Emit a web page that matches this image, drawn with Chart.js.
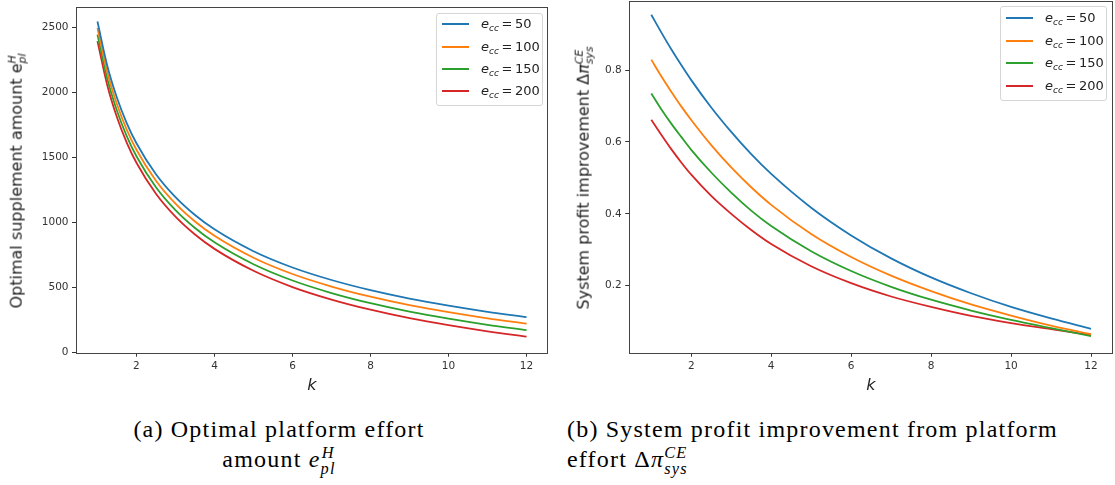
<!DOCTYPE html>
<html>
<head>
<meta charset="utf-8">
<script src="https://cdn.jsdelivr.net/npm/chart.js@4.4.0/dist/chart.umd.min.js"></script>
<style>
body { margin: 0; width: 1115px; height: 485px; background: #fff; position: relative; overflow: hidden; font-family: "DejaVu Sans", sans-serif; color: #000; }
canvas { position: absolute; top: 0; }
#leftChart { left: 0; }
#rightChart { left: 560px; }
.ytitle { position: absolute; transform: translate(-50%, -50%) rotate(-90deg); white-space: nowrap; font-size: 16px; line-height: 1; color: #222; }
.xtitle { position: absolute; transform: translate(-50%, -50%); font-style: italic; font-size: 16px; color: #222; }
.legend { position: absolute; background: rgba(255,255,255,0.8); border: 1px solid #d6d6d6; border-radius: 3px; box-sizing: border-box; }
.legend .row { position: absolute; left: 0; height: 20px; display: flex; align-items: center; white-space: nowrap; }
.legend .swatch { width: 27px; height: 0; border-top: 2px solid; margin-left: 5px; }
.legend .lbl { margin-left: 12px; font-size: 13px; color: #222; }
.legend sub { font-size: 9px; vertical-align: -3px; }
.ss { display: inline-flex; flex-direction: column; vertical-align: 0.55em; line-height: 0.95; font-size: 0.68em; font-style: italic; }
.caption { position: absolute; font-family: "Liberation Serif", serif; font-size: 24px; letter-spacing: 1.2px; line-height: 30px; white-space: nowrap; }
</style>
</head>
<body>
<canvas id="leftChart" width="560" height="400"></canvas>
<canvas id="rightChart" width="555" height="400"></canvas>

<div class="ytitle" style="left:18px; top:181px;">Optimal supplement amount e<span class="ss"><span>H</span><span>pl</span></span></div>
<div class="ytitle" style="left:585px; top:178px;">System profit improvement Δ<i>π</i><span class="ss"><span>CE</span><span>sys</span></span></div>
<div class="xtitle" style="left:312px; top:384px;">k</div>
<div class="xtitle" style="left:871px; top:384px;">k</div>

<div class="legend" id="legendLeft" style="left:436px; top:13px; width:107px; height:93px;"></div>
<div class="legend" id="legendRight" style="left:1000px; top:6px; width:107px; height:95px;"></div>

<div class="caption" style="left:79px; top:414px; width:400px; text-align:center;">(a) Optimal platform effort<br>amount <i>e</i><span class="ss"><span>H</span><span>pl</span></span></div>
<div class="caption" style="left:567px; top:414px; width:540px;">(b) System profit improvement from platform<br>effort Δ<i>π</i><span class="ss"><span>CE</span><span>sys</span></span></div>

<script>
// Значения параметра k (ось X)
const kValues = [1, 1.25, 1.5, 1.75, 2, 2.5, 3, 3.5, 4, 5, 6, 7, 8, 9, 10, 11, 12];
const eccLabels = ['50', '100', '150', '200'];
const seriesColors = ['#1f77b4', '#ff7f0e', '#2ca02c', '#d62728'];

const xTicks = [2, 4, 6, 8, 10, 12];
const effortTicks = [0, 500, 1000, 1500, 2000, 2500];
const profitTicks = [0.2, 0.4, 0.6, 0.8];

// (a) оптимальное усилие платформы
const effort50  = [2542, 2205, 1957, 1763, 1608, 1370, 1194, 1057, 947, 779, 654, 558, 480, 415, 361, 314, 273];
const effort100 = [2492, 2155, 1907, 1713, 1558, 1320, 1144, 1007, 897, 729, 604, 508, 430, 365, 311, 264, 223];
const effort150 = [2442, 2105, 1857, 1663, 1508, 1270, 1094, 957, 847, 679, 554, 458, 380, 315, 261, 214, 173];
const effort200 = [2392, 2055, 1807, 1613, 1458, 1220, 1044, 907, 797, 629, 504, 408, 330, 265, 211, 164, 123];

// (b) прирост прибыли системы
const profit50  = [0.954, 0.905, 0.858, 0.814, 0.772, 0.696, 0.628, 0.566, 0.511, 0.417, 0.340, 0.276, 0.223, 0.179, 0.141, 0.109, 0.080];
const profit100 = [0.829, 0.783, 0.740, 0.699, 0.661, 0.591, 0.529, 0.474, 0.425, 0.344, 0.280, 0.228, 0.185, 0.148, 0.117, 0.089, 0.065];
const profit150 = [0.735, 0.691, 0.651, 0.614, 0.578, 0.515, 0.459, 0.409, 0.366, 0.296, 0.241, 0.197, 0.161, 0.131, 0.105, 0.082, 0.060];
const profit200 = [0.662, 0.620, 0.580, 0.543, 0.509, 0.450, 0.400, 0.355, 0.316, 0.254, 0.207, 0.170, 0.141, 0.116, 0.096, 0.079, 0.063];

const tickFont = { family: 'DejaVu Sans', size: 10.5 };
const tickColor = '#333';

// рамка вокруг области графика, как у matplotlib
const framePlugin = {
    id: 'frame',
    afterDraw(chart) {
        const a = chart.chartArea;
        const ctx = chart.ctx;
        ctx.save();
        ctx.strokeStyle = '#444';
        ctx.lineWidth = 1;
        ctx.strokeRect(Math.round(a.left) + 0.5, Math.round(a.top) + 0.5,
            Math.round(a.right - a.left) - 1, Math.round(a.bottom - a.top));
        ctx.restore();
    }
};

function makeDatasets(seriesList) {
    return seriesList.map((values, i) => ({
        label: 'e_cc = ' + eccLabels[i],
        data: values.map((v, j) => ({ x: kValues[j], y: v })),
        borderColor: seriesColors[i],
        borderWidth: 1.8,
        pointRadius: 0,
        fill: false,
        cubicInterpolationMode: 'monotone'
    }));
}

// убираем запас под крайние подписи, чтобы область графика стояла точно
function noEdgePadding(s) {
    s.paddingTop = 0;
    s.paddingBottom = 0;
    s.paddingLeft = 0;
    s.paddingRight = 0;
}

function makeChart(canvasId, seriesList, yTicks, yMin, yMax, yWidth, padding) {
    return new Chart(document.getElementById(canvasId), {
        type: 'line',
        data: { datasets: makeDatasets(seriesList) },
        options: {
            responsive: false,
            animation: false,
            layout: { padding: padding },
            plugins: { legend: { display: false }, tooltip: { enabled: false } },
            scales: {
                x: {
                    type: 'linear',
                    min: 0.45,
                    max: 12.55,
                    afterBuildTicks: s => { s.ticks = xTicks.map(v => ({ value: v })); },
                    afterFit: s => { s.height = 47.3; noEdgePadding(s); },
                    grid: { display: true, drawOnChartArea: false, drawTicks: true, tickLength: 4, tickColor: tickColor },
                    border: { display: false },
                    ticks: { font: tickFont, color: tickColor, padding: 3, maxRotation: 0, callback: v => String(v) }
                },
                y: {
                    type: 'linear',
                    min: yMin,
                    max: yMax,
                    afterBuildTicks: s => { s.ticks = yTicks.map(v => ({ value: v })); },
                    afterFit: s => { s.width = yWidth; noEdgePadding(s); },
                    grid: { display: true, drawOnChartArea: false, drawTicks: true, tickLength: 4, tickColor: tickColor },
                    border: { display: false },
                    ticks: { font: tickFont, color: tickColor, padding: 3.5, callback: v => String(v) }
                }
            }
        },
        plugins: [framePlugin]
    });
}

makeChart('leftChart', [effort50, effort100, effort150, effort200], effortTicks, 0, 2656, 76,
    { left: 0, top: 6.7, right: 12, bottom: 0 });
makeChart('rightChart', [profit50, profit100, profit150, profit200], profitTicks, 0.0136, 0.993, 69.3,
    { left: 0, top: 0.7, right: 2, bottom: 0 });

// легенды с индексами (e_cc) — HTML, т.к. canvas не умеет подстрочный текст
function buildLegend(id, rowTops) {
    const box = document.getElementById(id);
    box.innerHTML = eccLabels.map((lab, i) => `
        <div class="row" style="top:${rowTops[i]}px">
            <div class="swatch" style="border-color:${seriesColors[i]}"></div>
            <div class="lbl"><i>e</i><sub><i>cc</i></sub>&thinsp;=&thinsp;${lab}</div>
        </div>`).join('');
}
buildLegend('legendLeft', [0, 23, 45, 67]);
buildLegend('legendRight', [1, 24, 46, 69]);
</script>
</body>
</html>
